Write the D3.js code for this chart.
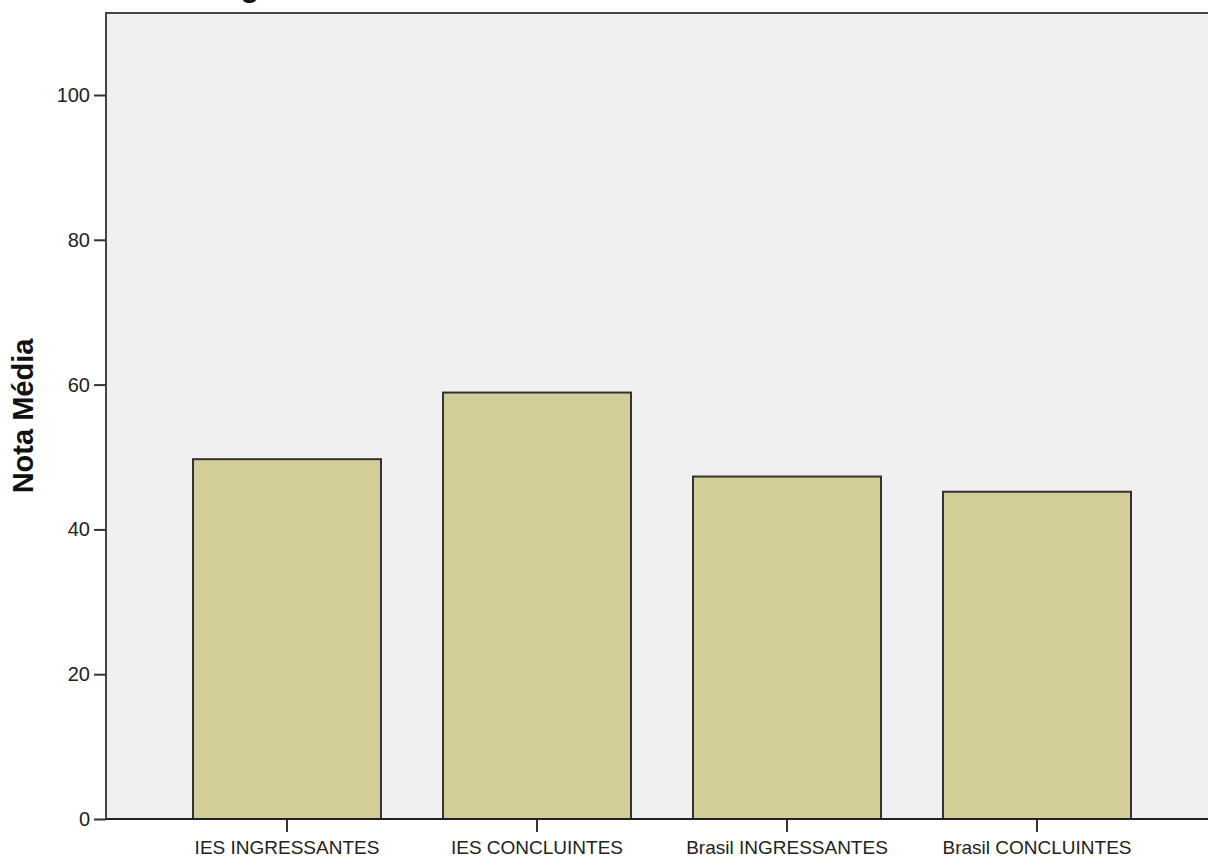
<!DOCTYPE html>
<html>
<head>
<meta charset="utf-8">
<script src="https://cdn.jsdelivr.net/npm/d3@7"></script>
<style>
  body { margin: 0; background: #fff; }
  svg { display: block; font-family: "Liberation Sans", Arial, sans-serif; }
</style>
</head>
<body>
<svg id="chart" width="1208" height="858"></svg>
<script>
// chart values
var categories = ["IES INGRESSANTES", "IES CONCLUINTES", "Brasil INGRESSANTES", "Brasil CONCLUINTES"];
var notaMedia = [49.7, 58.9, 47.3, 45.2];
var yTicks = [0, 20, 40, 60, 80, 100];
var yTitle = "Nota Média";
var titleVisible = "g";   // only the descender of the cut-off title shows

(function() {
  'use strict';

  var svg = d3.select("#chart"),
      plot = {left: 106, top: 13, right: 1218, bottom: 819};

  var y = d3.scaleLinear()
          .domain([0, 100])
          .range([plot.bottom, 95]);

  var x = d3.scaleBand()
          .domain(categories)
          .range([plot.left, plot.right])
          .paddingInner(0.248)
          .paddingOuter(0.348);

  // plot background + frame
  svg.append("rect")
    .attr("x", plot.left)
    .attr("y", plot.top)
    .attr("width", plot.right - plot.left)
    .attr("height", plot.bottom - plot.top)
    .attr("fill", "#f0f0f0")
    .attr("stroke", "#444")
    .attr("stroke-width", 2);

  // bars
  svg.append("g")
    .selectAll("rect")
    .data(notaMedia)
    .enter().append("rect")
    .attr("x", function(d, i) { return x(categories[i]); })
    .attr("y", function(d) { return y(d); })
    .attr("width", x.bandwidth())
    .attr("height", function(d) { return plot.bottom - y(d); })
    .attr("fill", "#d3ce97")
    .attr("stroke", "#333")
    .attr("stroke-width", 2);

  // y axis
  var yAxis = svg.append("g")
    .attr("transform", "translate(" + plot.left + ",0)")
    .call(d3.axisLeft(y).tickValues(yTicks).tickSize(12).tickPadding(4));
  yAxis.select(".domain").remove();
  yAxis.selectAll("line").attr("stroke", "#333").attr("stroke-width", 2);
  yAxis.selectAll("text").attr("font-size", 20).attr("fill", "#222")
    .attr("font-family", "Liberation Sans, Arial, sans-serif");

  // x axis
  var xAxis = svg.append("g")
    .attr("transform", "translate(0," + plot.bottom + ")")
    .call(d3.axisBottom(x).tickSize(13).tickPadding(9));
  xAxis.select(".domain").remove();
  xAxis.selectAll("line").attr("stroke", "#333").attr("stroke-width", 2);
  xAxis.selectAll("text").attr("font-size", 19).attr("fill", "#222")
    .attr("font-family", "Liberation Sans, Arial, sans-serif");

  // baseline
  svg.append("line")
    .attr("x1", plot.left).attr("x2", plot.right)
    .attr("y1", plot.bottom).attr("y2", plot.bottom)
    .attr("stroke", "#222")
    .attr("stroke-width", 2);

  // y axis title
  svg.append("text")
    .attr("transform", "translate(33,416) rotate(-90)")
    .attr("text-anchor", "middle")
    .attr("font-size", 29)
    .attr("font-weight", "bold")
    .attr("fill", "#111")
    .text(yTitle);

  // cut-off chart title
  svg.append("text")
    .attr("x", 250)
    .attr("y", -3)
    .attr("text-anchor", "middle")
    .attr("font-size", 30)
    .attr("font-weight", "bold")
    .attr("fill", "#111")
    .text(titleVisible);
})();
</script>
</body>
</html>
